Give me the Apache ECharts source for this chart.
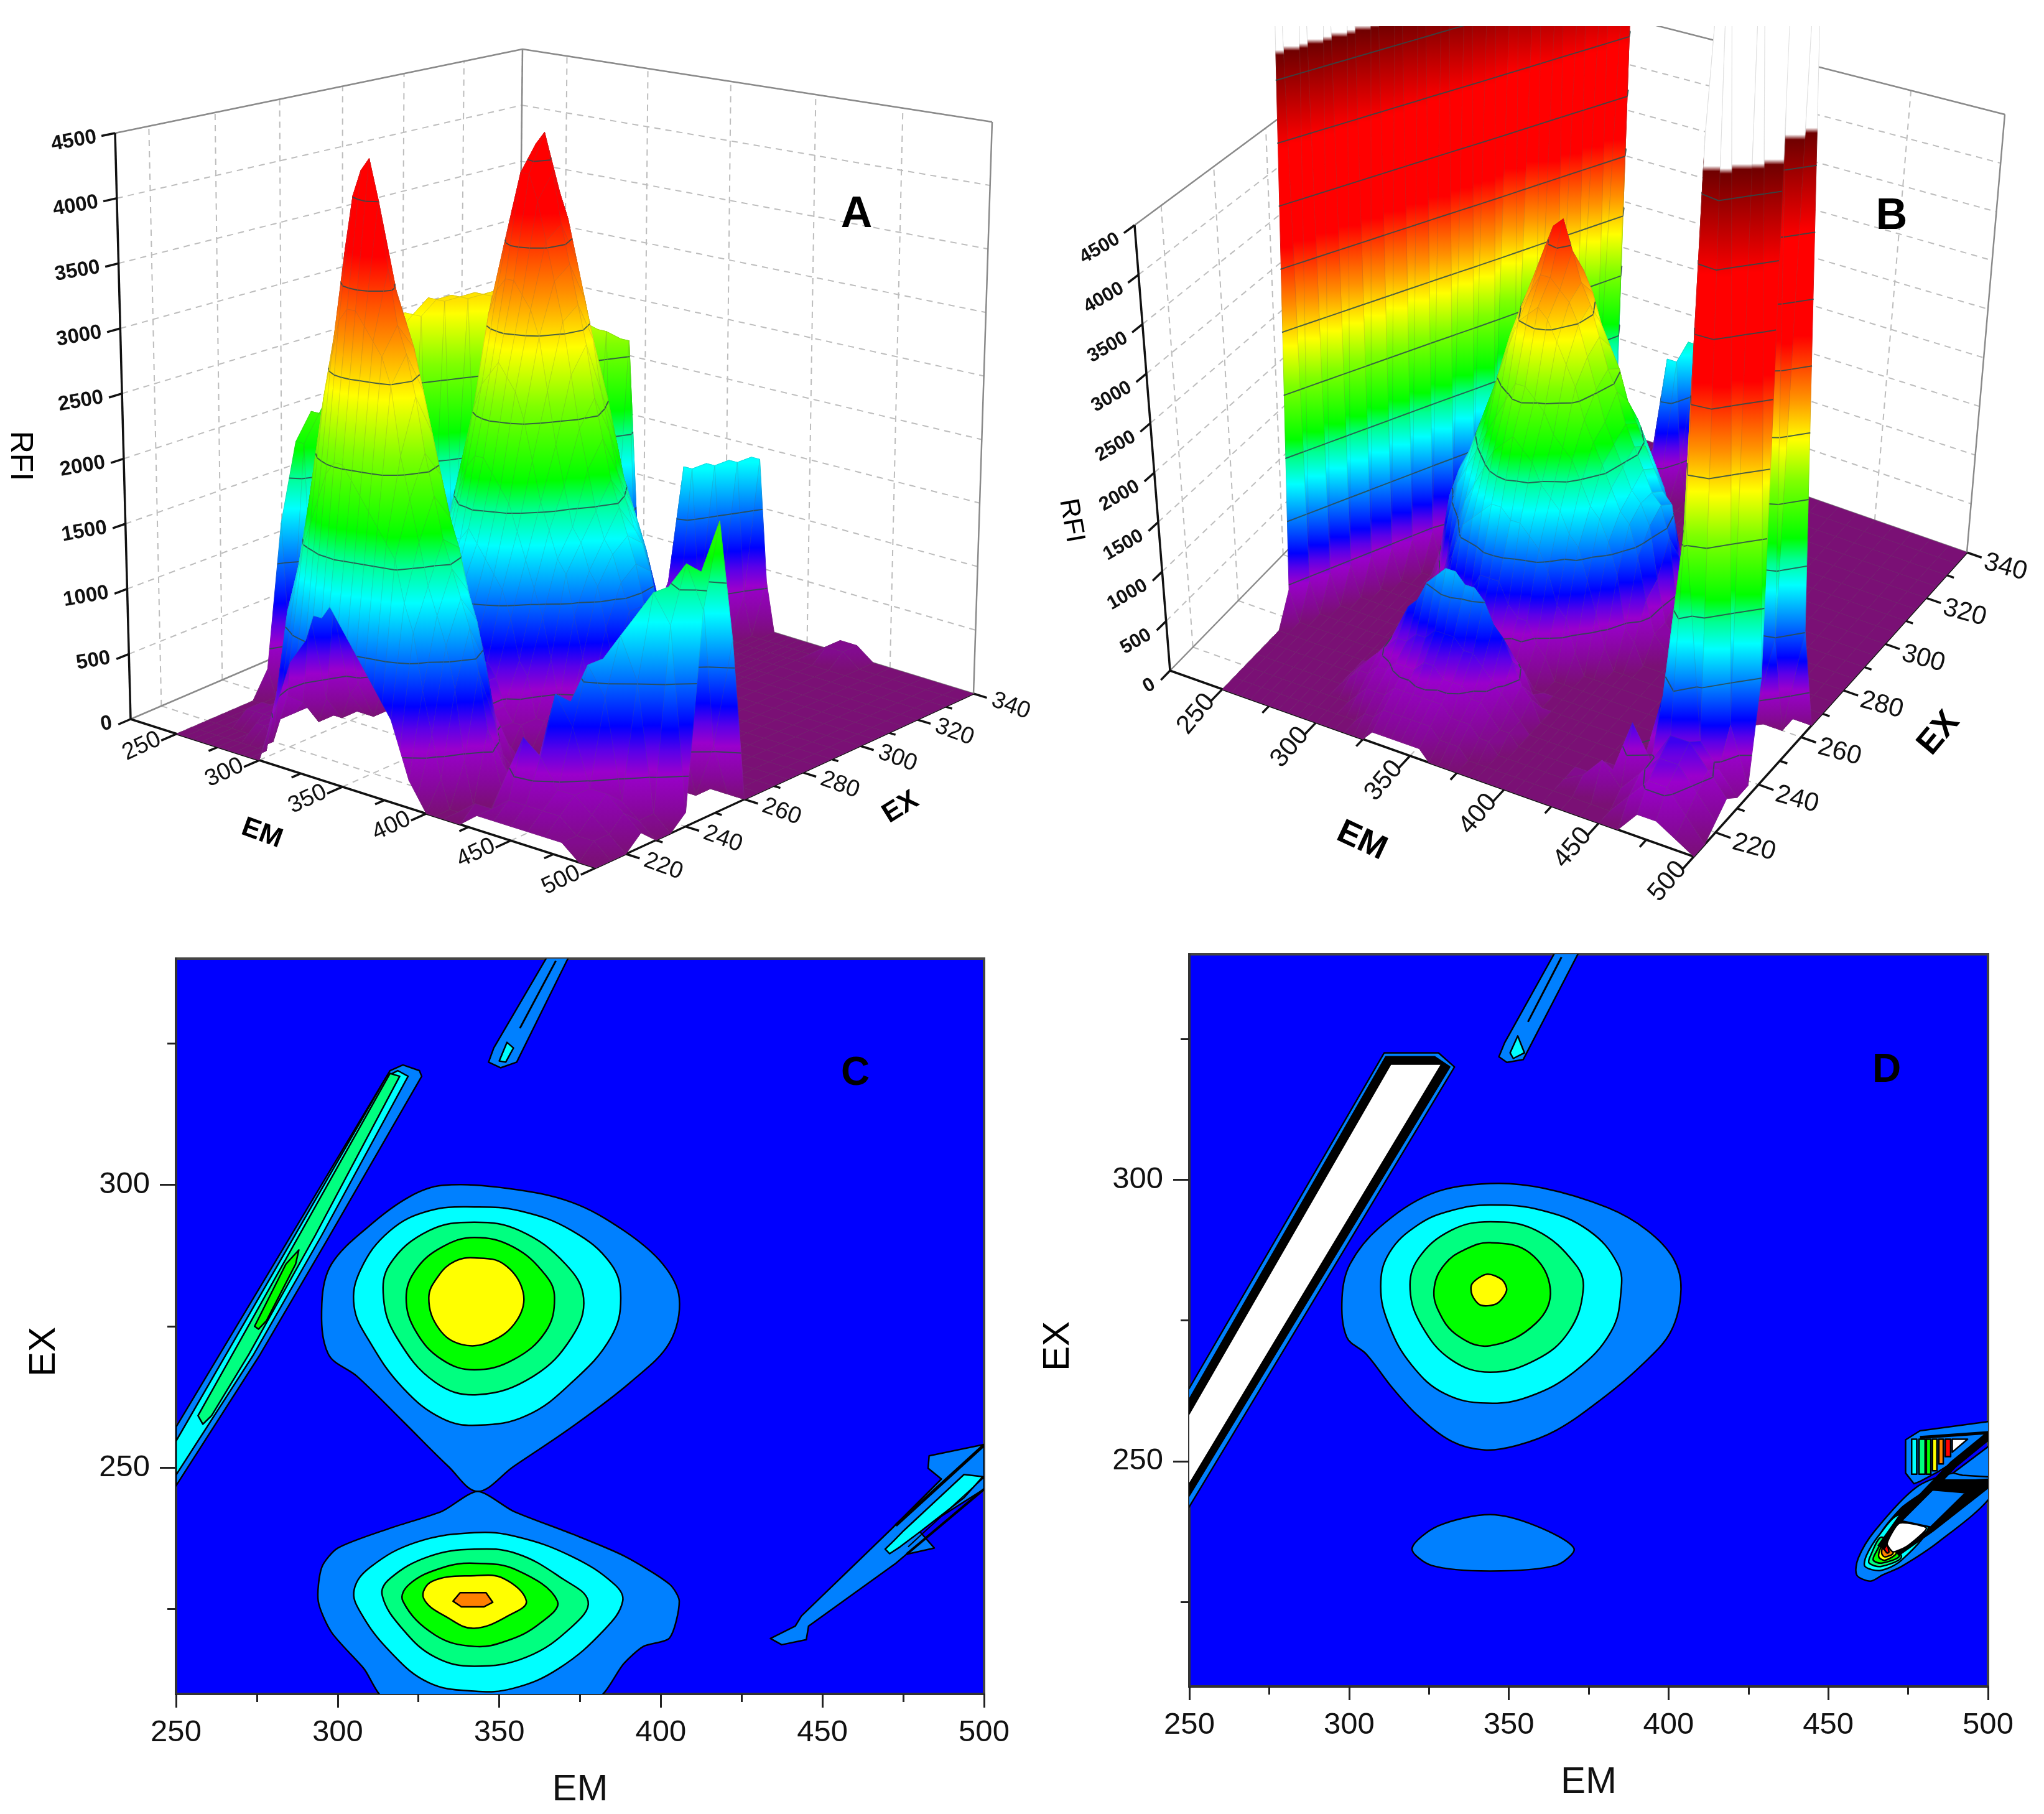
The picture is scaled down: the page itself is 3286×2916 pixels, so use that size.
<!DOCTYPE html>
<html>
<head>
<meta charset="utf-8">
<style>html,body{margin:0;padding:0;background:#fff}#chart{width:3286px;height:2916px}</style>
<script src="https://cdn.jsdelivr.net/npm/echarts@6/dist/echarts.min.js"></script>
</head>
<body>
<div id="chart"></div>
<script>
// surface grid of the two 3D panels
const emGrid = [250,255,260,265,270,275,280,285,290,295,300,305,310,315,320,325,330,335,340,345,350,355,360,365,370,375,380,385,390,395,400,405,410,420,430,440,450,460,470,480,490,500];
const exGrid = [210,215,220,225,230,235,240,245,250,255,260,265,270,275,280,285,290,295,300,305,310,315,320,325,330,335,340];
const emTicks = [250,300,350,400,450,500];
const emMinorTicks = [275,325,375,425,475];
const exTicks = [220,240,260,280,300,320,340];
const exMinorTicks = [230,250,270,290,310,330];
const rfiTicks = [0,500,1000,1500,2000,2500,3000,3500,4000,4500];
const isoLevels = [350,990,1630,2270,2910,3550,4190,4830,5470];
const RFI_UNIT = 100; // table values below are RFI / 100

// panel A, one row per exGrid value
const rfiA = [
[0,0,0,0,0,0,0,0, 0,0,0,2,4,6,8,9,10,12,12,13,12,11,10,9,8,7,6,4,2,1,0,0,0, 0,1,1,1,1,1,1,0,0],
[0,0,0,0,0,0,0,0, 0,0,3,6,11,13,16,18,20,22,23,23,22,21,20,19,18,17,14,12,8,5,2,0,0, 1,1,2,2,2,2,1,1,0],
[0,0,0,0,0,0,1,1, 0,5,9,12,15,19,23,27,30,33,34,34,33,32,31,29,24,21,18,15,13,11,8,3,0, 0,3,6,5,3,3,2,1,0],
[0,0,0,1,1,1,1,1, 3,11,14,17,21,24,29,33,38,42,44,45,42,37,33,31,28,24,21,18,16,14,12,9,5, 0,0,4,9,7,3,3,2,1],
[0,0,0,1,1,1,1,1, 2,9,11,14,17,21,25,30,32,34,37,37,35,33,31,28,25,22,19,17,14,12,9,5,2, 0,0,0,8,11,9,2,1,0],
[0,0,0,0,1,1,1,1, 0,2,9,11,13,15,17,18,20,22,24,24,23,21,19,18,17,16,13,11,8,5,2,0,0, 0,0,0,0,11,13,10,1,0],
[2,0,0,0,0,1,1,1, 0,0,2,3,5,6,8,9,11,13,15,15,14,13,11,9,8,6,5,3,2,2,0,0,0, 0,0,0,0,0,14,16,14,1],
[13,2,0,0,0,0,0,0, 0,0,0,0,2,3,5,6,8,9,10,10,10,8,8,6,5,3,2,0,0,0,0,0,0, 0,0,0,0,0,1,16,18,15],
[19,19,2,0,0,0,0,0, 0,0,0,0,2,3,5,6,8,9,11,11,11,9,8,6,5,3,2,2,0,0,0,0,0, 0,0,0,0,0,0,5,17,21],
[21,21,21,2,0,0,0,0, 0,0,0,2,3,5,8,11,12,14,14,15,14,13,12,11,9,6,5,2,2,0,0,0,0, 0,0,0,0,0,0,0,4,12],
[2,23,23,23,2,0,0,0, 0,0,2,5,8,9,12,15,17,19,20,20,19,18,17,15,13,11,9,6,3,2,0,0,0, 0,0,0,0,0,0,0,0,0],
[0,2,25,25,25,2,0,0, 0,2,5,9,12,14,17,20,23,25,26,27,26,25,23,20,17,15,13,12,9,6,3,2,0, 0,0,0,0,0,0,0,0,0],
[0,0,2,27,27,27,2,0, 2,6,11,12,13,16,20,24,30,32,33,33,32,31,29,25,21,18,15,14,12,11,8,5,2, 0,0,0,0,0,0,0,0,0],
[0,0,0,2,28,28,28,2, 3,9,12,14,16,21,25,30,35,38,41,41,39,36,33,30,26,22,19,16,14,13,11,9,3, 0,0,0,0,0,0,0,0,0],
[0,0,0,0,2,29,29,29, 8,9,13,17,21,24,28,33,37,41,43,44,41,37,34,31,28,24,21,18,16,14,12,9,5, 0,0,0,0,0,0,0,0,0],
[0,0,0,0,0,2,29,29, 29,11,11,15,19,22,25,30,33,35,39,39,37,34,31,28,24,21,18,16,14,13,11,8,3, 0,0,0,0,0,0,0,0,0],
[0,0,0,0,0,0,2,29, 29,29,11,12,14,16,18,21,23,27,29,29,29,27,25,23,20,17,15,13,11,6,3,2,0, 0,0,0,0,0,0,0,0,0],
[0,0,0,0,0,0,0,2, 29,29,29,6,6,9,12,14,15,16,17,17,17,17,16,15,14,13,11,8,5,3,2,0,0, 0,0,0,0,0,0,0,0,0],
[0,0,0,0,0,0,0,0, 3,28,28,28,4,3,6,8,9,9,11,11,11,11,11,9,9,8,6,5,3,2,2,0,0, 0,0,0,0,0,0,0,0,0],
[0,0,0,0,0,0,0,0, 0,3,27,27,27,3,0,2,2,2,2,3,3,3,2,2,2,2,0,0,0,0,0,0,0, 0,0,0,0,0,0,0,0,0],
[0,0,0,0,0,0,0,0, 0,0,3,26,26,26,3,0,0,0,0,0,0,0,0,0,0,0,0,0,0,0,0,0,0, 0,0,0,0,0,0,0,0,0],
[0,0,0,0,0,0,0,0, 0,0,0,3,25,25,25,3,0,0,0,0,0,0,0,0,0,0,0,0,0,0,0,0,0, 0,0,0,0,0,0,0,0,0],
[0,0,0,0,0,0,0,0, 0,0,0,0,3,24,24,24,3,0,0,3,5,0,0,0,0,0,0,0,0,0,0,0,0, 0,0,0,0,0,0,0,0,0],
[0,0,0,0,0,0,0,0, 0,0,0,0,0,0,0,0,0,0,0,4,14,14,3,0,0,0,0,0,0,0,0,0,0, 0,0,0,0,0,0,0,0,0],
[0,0,0,0,0,0,0,0, 0,0,0,0,0,0,0,0,0,0,0,0,3,14,14,3,0,0,0,0,0,0,0,0,0, 0,0,0,0,0,0,0,0,0],
[0,0,0,0,0,0,0,0, 0,0,0,0,0,0,0,0,0,0,0,0,0,3,14,14,3,0,0,0,0,0,0,0,0, 1,1,0,0,0,0,0,0,0],
[0,0,0,0,0,0,0,0, 0,0,0,0,0,0,0,0,0,0,0,0,0,0,0,14,14,4,0,0,0,0,0,0,0, 1,1,0,0,0,0,0,0,0]
];

// panel B, same layout; the 90s are the scatter walls that run off the top of the picture
const rfiB = [
[0,0,0,0,0,0,0,0, 0,0,0,0,0,0,0,0,1,1,1,1,1,1,0,0,0,0,0,0,0,0,0,0,0, 0,0,0,0,0,2,2,1,0],
[0,0,0,0,0,0,0,0, 0,0,0,0,0,0,1,1,2,2,2,2,2,2,1,1,1,0,0,0,0,0,0,0,0, 0,0,0,0,2,4,4,2,0],
[0,0,0,0,0,0,0,0, 0,0,0,0,1,2,2,2,3,3,3,3,3,3,2,2,2,1,1,0,0,0,0,0,0, 0,1,3,1,3,5,5,3,1],
[0,0,0,0,0,0,0,0, 0,0,1,2,2,3,3,4,4,4,5,5,4,4,4,3,3,2,1,1,0,0,0,0,0, 0,0,1,6,3,6,6,4,2],
[0,0,0,0,0,0,0,0, 0,0,1,2,3,4,5,5,6,6,7,7,7,6,6,5,4,3,2,1,0,0,0,0,0, 0,0,0,1,8,25,5,3,1],
[0,0,0,0,0,0,0,0, 0,0,0,0,3,5,7,8,10,11,12,12,11,11,10,8,7,5,3,2,0,0,0,0,0, 0,0,0,0,4,60,90,6,1],
[3,0,0,0,0,0,0,0, 0,0,0,0,0,1,4,5,6,7,9,9,8,8,6,5,4,3,1,0,0,0,0,0,0, 0,0,0,0,0,30,90,90,10],
[90,3,0,0,0,0,0,0, 0,0,0,0,0,0,0,2,2,3,3,4,3,3,2,2,1,0,0,0,0,0,0,0,0, 0,0,0,0,0,5,90,90,90],
[90,90,3,0,0,0,0,0, 0,0,0,0,0,0,3,5,5,6,8,8,8,6,5,5,3,2,0,0,0,0,0,0,0, 0,0,0,0,0,1,40,90,90],
[90,90,90,3,0,0,0,0, 0,0,0,0,2,5,8,11,12,13,14,14,13,13,12,11,9,6,5,2,0,0,0,0,0, 0,0,0,0,0,0,1,10,90],
[3,90,90,90,3,0,0,0, 0,0,0,2,5,9,12,14,16,18,19,20,19,18,16,15,14,12,11,8,5,2,0,0,0, 0,0,0,0,0,0,0,0,10],
[0,3,90,90,90,3,0,0, 0,0,3,8,12,14,16,18,20,22,24,24,23,22,20,19,18,16,14,13,11,8,3,2,0, 0,0,0,0,0,0,0,0,0],
[0,0,3,90,90,90,3,0, 0,3,9,12,14,17,19,23,26,29,30,31,30,28,26,24,21,19,17,15,13,12,9,5,2, 0,0,0,0,0,0,0,0,0],
[0,0,0,3,90,90,90,3, 0,6,11,13,16,19,22,26,29,31,33,33,32,31,29,26,23,20,18,16,14,13,11,6,2, 0,0,0,0,0,0,0,0,0],
[0,0,0,0,3,90,90,90, 5,6,11,14,17,20,24,28,31,34,37,38,35,32,30,27,24,22,19,17,15,13,12,9,3, 0,0,0,0,0,0,0,0,0],
[0,0,0,0,0,3,90,90, 90,8,11,13,16,19,22,25,29,31,32,33,32,30,27,25,23,20,18,16,14,12,11,6,2, 0,0,0,0,0,0,0,0,0],
[0,0,0,0,0,0,3,90, 90,90,8,11,13,15,17,19,21,23,24,24,23,22,21,19,18,17,15,13,11,8,5,2,0, 0,0,0,0,0,0,0,0,0],
[0,0,0,0,0,0,0,3, 90,90,90,6,6,9,12,14,15,16,16,17,17,16,15,14,13,12,9,6,5,2,2,0,0, 0,0,0,0,0,0,0,0,0],
[0,0,0,0,0,0,0,0, 3,90,90,90,4,3,5,6,8,9,9,11,11,11,9,9,8,6,5,3,2,2,0,0,0, 0,0,0,0,0,0,0,0,0],
[0,0,0,0,0,0,0,0, 0,3,90,90,90,3,0,1,1,1,1,2,2,1,1,1,1,0,0,0,0,0,0,0,0, 0,0,0,0,0,0,0,0,0],
[0,0,0,0,0,0,0,0, 0,0,3,90,90,90,3,0,0,0,0,0,0,0,0,0,0,0,0,0,0,0,0,0,0, 0,0,0,0,0,0,0,0,0],
[0,0,0,0,0,0,0,0, 0,0,0,3,90,90,90,3,0,0,0,0,0,0,0,0,0,0,0,0,0,0,0,0,0, 0,0,0,0,0,0,0,0,0],
[0,0,0,0,0,0,0,0, 0,0,0,0,3,90,90,90,3,0,0,3,4,0,0,0,0,0,0,0,0,0,0,0,0, 0,0,0,0,0,0,0,0,0],
[0,0,0,0,0,0,0,0, 0,0,0,0,0,0,0,0,0,0,0,4,14,14,3,0,0,0,0,0,0,0,0,0,0, 0,0,0,0,0,0,0,0,0],
[0,0,0,0,0,0,0,0, 0,0,0,0,0,0,0,0,0,0,0,0,3,15,15,3,0,0,0,0,0,0,0,0,0, 0,0,0,0,0,0,0,0,0],
[0,0,0,0,0,0,0,0, 0,0,0,0,0,0,0,0,0,0,0,0,0,3,15,15,3,0,0,0,0,0,0,0,0, 0,0,0,0,0,0,0,0,0],
[0,0,0,0,0,0,0,0, 0,0,0,0,0,0,0,0,0,0,0,0,0,0,0,14,15,5,0,0,0,0,0,0,0, 0,0,0,0,0,0,0,0,0]
];

// ---- contour outlines of panel C, as [EM, EX] ----
const cUpper1 = [[332.3,299.9],[352.4,299.4],[372.5,296.9],[388.6,291.9],[400.6,286],[405.7,280],[402.7,272.1],[390.6,265.1],[372.5,257.2],[354.4,250.2],[343.3,245.8],[334.3,250.2],[320.2,258.2],[306.1,266.1],[297.1,270.1],[295.1,279],[298.1,286],[310.1,292.9],[322.2,297.9]];
const cUpper2 = [[342.3,296.1],[356.4,295.4],[372.5,291.9],[384.6,286],[387.6,280],[384.6,273.1],[372.5,265.1],[358.4,259.2],[343.3,257.5],[332.3,258.7],[320.2,264.1],[310.1,272.1],[305.1,278.5],[307.1,285],[316.2,291.9],[328.2,295.4]];
const cUpper3 = [[342.3,293.4],[356.4,291.9],[370.5,286],[376.1,280],[372.5,273.1],[360.4,266.1],[343.3,262.9],[330.2,265.1],[318.2,273.1],[314.2,280],[316.2,286],[328.2,291.9]];
const cUpper4 = [[342.3,290.7],[354.4,289],[364.4,284],[367.1,280],[364.4,274.1],[354.4,269.1],[342.3,267.3],[332.3,269.1],[324.2,274.1],[321.2,280],[324.2,285],[332.3,289]];
const cUpper5 = [[342.3,287.1],[351.4,286],[357.4,281],[355.4,276],[347.3,272.3],[338.3,271.8],[331.3,274.6],[328.2,280],[331.3,284],[336.3,286.5]];
const cLower1 = [[343.3,245.8],[354.4,242.3],[372.5,238.3],[388.6,234.4],[402.7,229.4],[405.7,226.4],[402.7,219.9],[394.6,218.4],[388.6,215.4],[379.5,209],[315.2,209],[308.1,214.5],[298.1,220.9],[294,226.4],[295.1,232.4],[300.1,235.8],[316.2,239.3],[332.3,242.3]];
const cLower2 = [[342.3,238.5],[355.4,237.8],[372.5,234.3],[385.6,229.4],[388.2,226.4],[382.6,221.4],[368.4,214.5],[354.4,211],[342.3,210.5],[328.2,212],[316.2,217.5],[307.1,224.4],[305.1,228.4],[310.1,232.4],[324.2,236.8]];
const cLower3 = [[342.3,235.6],[355.4,234.8],[369.5,230.4],[377.5,226.4],[372.5,221.9],[358.4,216.5],[342.3,214.9],[330.2,216.5],[320.2,221.4],[313.8,227.4],[316.2,230.4],[328.2,234.3]];
const cLower4 = [[342.3,233.1],[355.4,231.9],[368,226.4],[362.4,222.4],[352.4,219.4],[342.3,218.4],[330.2,220.4],[320.2,226.4],[322.2,229.4],[332.3,232.3]];
const cLower5 = [[342.3,230.9],[351.4,230.4],[358.4,226.4],[353.4,224],[342.3,221.6],[334.3,223.4],[326.6,226.9],[329.2,229.9]];
const cLower6 = [[337.9,227.9],[345.9,227.9],[348,226.2],[345.3,225.4],[338.3,225.4],[335.7,226.4]];
const cRidge1 = [[250,257.2],[316.2,320.2],[320.2,321.2],[325.3,320.2],[326,319.2],[296.5,290],[276,270],[250,246.8]];
const cRidge2 = [[250,254.7],[315.2,319.2],[318.6,320.2],[321.8,319.2],[295,291],[274,270],[250,248.7]];
const cRidge3 = [[256.8,259.2],[316.2,319.7],[319.2,319.2],[293,291],[272.5,270],[261,259.2],[258.3,257.7]];
const cRidge4 = [[274.3,275],[284,286],[288,288.5],[287,286],[278,276],[275.5,274.5]];
const cTop1 = [[365.5,341],[372.1,341],[355.4,321.7],[350.4,320.7],[346.7,321.7],[348.3,324.2]];
const cTop2 = [[352.4,325.2],[354.4,324.2],[352,321.7],[350,321.9]];
const cTopLine = [[367.5,339.6],[356.4,327.7]];
const cTail1 = [[433.9,219.8],[441.6,222],[443.5,223.8],[471.4,239.2],[486.8,248],[482.7,249.9],[483,252.1],[500,254.1],[500,246.2],[479.8,238.9],[484.6,235.8],[476,234.7],[472.7,233.1],[445.7,222],[445,219.6],[437.4,218.7]];
const cTail2 = [[469.4,235.6],[472.1,237.1],[475.2,238.9],[493.8,248.8],[499.6,248.4],[493.8,244.7],[479.8,238.5],[474,236],[470.8,234.8]];
const cTailLine1 = [[472.7,239.8],[500,254]];
const cTailLine2 = [[476,234.7],[500,246.2]];
const cTailLine3 = [[476.5,236],[500,248.3]];

// ---- contour outlines of panel D ----
const dUpper1 = [[344.2,299.3],[360.6,298.5],[381,295],[393.3,291],[401.5,286],[403.9,280.5],[400.7,273],[391.5,267],[379,261],[364.9,255.5],[352.6,252.8],[342.4,252],[332.2,253.5],[321.7,258],[313.6,263],[305.4,269],[299.3,272],[297.8,279],[300.3,285],[309.5,291.5],[325.8,297.5]];
const dUpper2 = [[344.2,295.5],[360.6,294.5],[374.9,291],[384.1,285],[385.1,280],[382,273],[370.8,266],[356.5,261.5],[343.2,260.3],[329.9,262],[319.7,267],[312.6,274],[309.9,281],[312.6,287],[321.7,292],[332,294.5]];
const dUpper3 = [[344.2,292.5],[358.5,291],[370.8,285],[373.3,280.5],[368.8,273],[358.5,268],[344.2,265.8],[332,268],[322.8,274],[319.1,280.5],[321.7,286],[332,291]];
const dUpper4 = [[344.2,288.8],[356.5,287],[363,280.5],[358.5,274.5],[344.2,270.5],[334,272.3],[327.9,276.8],[326.7,281],[330,285],[336,287.5]];
const dUpper5 = [[343.2,283.2],[347.9,282.2],[349.3,280.3],[346.3,278],[341.2,277.7],[338.5,279.5],[338.5,281.5]];
const dLower1 = [[344.2,240.5],[358.5,238.5],[370.4,234.5],[364.7,231.5],[344.2,230.5],[325.8,231.5],[319.7,234.5],[327.9,238.5]];
const dBand1 = [[249,262],[311,322.5],[328,322.5],[333,320],[249,241]];
const dBand2 = [[249,260],[311.5,321.8],[326.8,321.8],[331.5,320],[249,243]];
const dBand3 = [[249,257.5],[313,320.5],[329,320.5],[249,245]];
const dTop1 = [[365.1,341],[372.5,341],[354.5,321.3],[349.4,320.8],[346.9,321.8],[348.7,324.3]];
const dTop2 = [[352.8,325.5],[354.9,322.5],[351.4,321.5],[350.4,322.5]];
const dTopLine = [[366.5,339.5],[356,328]];
const dTipOuter = [[458.9,229.8],[463.2,228.7],[467,229.8],[472.9,231.3],[484.6,235.7],[501,243.8],[501,248.3],[489.1,247.9],[477.4,245.3],[464.5,237.6],[459.4,232.8]];
const dTipDark = [[461.9,231.7],[462.5,233.5],[467.7,238.3],[473.5,242],[483.9,245.7],[501,246.8],[501,245.9],[481.3,237.9],[472.3,233.2],[466.4,230.9]];
const dTip2 = [[461.5,231.3],[461.9,233.2],[465.8,236.8],[472.3,240.5],[481.3,238.3],[472.9,232.4],[466.4,230.6]];
const dTip3 = [[462.8,231.9],[463.2,233.2],[466.7,236.5],[472.9,233],[466.4,231.3]];
const dTip4 = [[464.1,232.4],[464.8,233.7],[467.4,235.7],[472.3,233.2],[466.7,231.9]];
const dTip5 = [[465.8,233],[466.4,234.6],[468,235.4],[471.3,233.7],[467.7,232.4]];
const dTip6 = [[466.7,233.7],[467.4,235.2],[468.4,235.4],[470.3,233.7],[467.7,233]];
const dTip7 = [[467.4,234.6],[468,235.7],[469,233.9],[468.4,233.7]];
const dWhite = [[468.4,235.4],[472.3,239],[480.7,238.1],[474.9,235],[470.3,233.9]];
const dQuad = [[472.9,239.4],[482.6,244.9],[493,244.4],[482,238.3]];
const dQuad2 = [[489.1,247.9],[501,253],[501,247.2],[492,247.5]];
const dWedge = [[474.2,253.8],[478.7,255.4],[501,257.1],[501,254],[484,248],[478.7,246.4],[476.8,246],[474.2,247.9]];
const dStripes = [
  [[476.1,253.9],[477.7,253.9],[477.7,247.7],[476.1,247.7]],
  [[478.4,253.9],[480.3,253.9],[480.3,247.7],[478.4,247.7]],
  [[480.7,253.9],[482.1,253.9],[482.1,247.7],[480.7,247.7]],
  [[482.6,253.9],[484,253.9],[484,248.3],[482.6,248.3]],
  [[484.6,253.9],[486,253.9],[486,249.5],[484.6,249.5]],
  [[486.6,253.9],[488.3,253.9],[488.3,250.8],[486.6,250.8]],
  [[488.8,253.9],[493.6,253.9],[488.8,251.6]]
];
const dStripeLevels = [1,2,3,4,5,6,7];
const dLineA = [[466.4,234.6],[472.9,239.8],[489.1,249.4],[501,254.9]];
const dLineB = [[471.6,233.5],[482.6,237.9],[501,246.1]];
const dLineC = [[484,246.4],[501,246.4]];
const dLineD = [[478.7,254.2],[501,255.1]];

const exAxisMajor = [250,300];
const exAxisMinor = [225,275,325];

// ---- look ----
const FONT = '"Liberation Sans", Arial, sans-serif';
const levelFill = ['#0080ff','#00ffff','#00ff80','#00ff00','#ffff00','#ff8000','#ff0000','#ffffff','#000000','#000088'];
const rfiColors = [[0,'#7a1075'],[150,'#86089a'],[400,'#9a00cc'],[550,'#5a00e8'],[700,'#0000ff'],[1050,'#0080ff'],[1400,'#00ffff'],[1650,'#00ff90'],[1850,'#00ff00'],[2400,'#80ff00'],[2800,'#ffff00'],[3200,'#ff9000'],[3800,'#ff0000'],[4800,'#ff0000'],[5750,'#700000'],[5800,'#ffffff'],[20000,'#ffffff']];

const contoursC = [
  {pts:cUpper1,l:0,s:.35},{pts:cUpper2,l:1,s:.4},{pts:cUpper3,l:2,s:.4},{pts:cUpper4,l:3,s:.4},{pts:cUpper5,l:4,s:.4},
  {pts:cLower1,l:0,s:.25},{pts:cLower2,l:1,s:.4},{pts:cLower3,l:2,s:.4},{pts:cLower4,l:3,s:.4},{pts:cLower5,l:4,s:.4},{pts:cLower6,l:5,s:0},
  {pts:cRidge1,l:0},{pts:cRidge2,l:1},{pts:cRidge3,l:2},{pts:cRidge4,l:3},
  {pts:cTop1,l:0},{pts:cTop2,l:1},{pts:cTopLine,w:3},
  {pts:cTail1,l:0},{pts:cTail2,l:1},{pts:cTailLine1,w:5},{pts:cTailLine2,w:4},{pts:cTailLine3,w:2}
];
const contoursD = [
  {pts:dUpper1,l:0,s:.35},{pts:dUpper2,l:1,s:.4},{pts:dUpper3,l:2,s:.4},{pts:dUpper4,l:3,s:.4},{pts:dUpper5,l:4,s:.3},
  {pts:dLower1,l:0,s:.3},
  {pts:dBand1,l:0},{pts:dBand2,l:8},{pts:dBand3,l:7},
  {pts:dTop1,l:0},{pts:dTop2,l:1},{pts:dTopLine,w:3},
  {pts:dWedge,l:0},
  ...dStripes.map((p, i) => ({pts:p, l:dStripeLevels[i]})),
  {pts:dTipOuter,l:0,s:.3},{pts:dTipDark,l:8,s:.2},
  {pts:dTip2,l:1,s:.3},{pts:dTip3,l:2,s:.3},{pts:dTip4,l:3,s:.3},{pts:dTip5,l:4,s:.3},{pts:dTip6,l:5,s:.3},{pts:dTip7,l:6,s:.3},
  {pts:dLineA,w:13},{pts:dLineB,w:8},{pts:dLineC,w:7},{pts:dLineD,w:5},
  {pts:dWhite,l:7,s:.2},{pts:dQuad,l:0},{pts:dQuad2,l:0}
];

// box corners of the 3D panels on the page: floor and top plane, in the order
// (EMmin,EXmin) (EMmax,EXmin) (EMmax,EXmax) (EMmin,EXmax)
const EM_MIN = 222, EM_MAX = 500, EX_MIN = 210, EX_MAX = 340, RFI_TOP = 4500;
const boxA = {
  floor: [[210,1156],[958,1395],[1565,1115],[831,890]],
  top: [[185,214],[958,352],[1595,196],[840,79]],
  em: {dx:-56, dy:20, rot:25, size:38}, ex: {dx:60, dy:20, rot:-20, size:38}, rfi: {dx:-30, dy:6, rot:10, size:33}
};
const boxB = {
  floor: [[1881,1078],[2723,1377],[3162,888],[2344,603]],
  top: [[1824,362],[2733,576],[3223,184],[2361,-36]],
  em: {dx:-42, dy:40, rot:50, size:42}, ex: {dx:62, dy:24, rot:-15, size:42}, rfi: {dx:-26, dy:20, rot:30, size:31}
};

function homography(q) {
  const [[x0,y0],[x1,y1],[x2,y2],[x3,y3]] = q;
  const sx = x0-x1+x2-x3, sy = y0-y1+y2-y3;
  const dx1 = x1-x2, dx2 = x3-x2, dy1 = y1-y2, dy2 = y3-y2;
  const den = dx1*dy2 - dx2*dy1;
  const g = (sx*dy2 - dx2*sy)/den, h = (dx1*sy - sx*dy1)/den;
  const a = x1-x0+g*x1, b = x3-x0+h*x3, d = y1-y0+g*y1, e = y3-y0+h*y3;
  return (u, v) => {
    const w = g*u + h*v + 1;
    return [(a*u + b*v + x0)/w, (d*u + e*v + y0)/w];
  };
}

function makeProjector(box) {
  const floor = homography(box.floor), top = homography(box.top);
  return (em, ex, rfi) => {
    const u = (em-EM_MIN)/(EM_MAX-EM_MIN), v = (ex-EX_MIN)/(EX_MAX-EX_MIN), t = rfi/RFI_TOP;
    const f = floor(u, v), c = top(u, v);
    return [f[0] + (c[0]-f[0])*t, f[1] + (c[1]-f[1])*t];
  };
}

function colorAt(z) {
  for (let i = 1; i < rfiColors.length; i++) {
    if (z <= rfiColors[i][0]) {
      const a = rfiColors[i-1], b = rfiColors[i];
      return echarts.color.lerp((z-a[0])/(b[0]-a[0]), [a[1], b[1]]);
    }
  }
  return '#ffffff';
}

function quadFill(low, high, zLow, zHigh) {
  if (zHigh - zLow < 20 || Math.abs(high[1]-low[1]) < 1) return colorAt((zLow+zHigh)/2);
  const stops = [{offset:0, color:colorAt(zLow)}];
  rfiColors.forEach(s => {
    if (s[0] > zLow && s[0] < zHigh) stops.push({offset:(s[0]-zLow)/(zHigh-zLow), color:s[1]});
  });
  stops.push({offset:1, color:colorAt(zHigh)});
  return new echarts.graphic.LinearGradient(low[0], low[1], low[0], high[1], stops, true);
}

// surface: far rows first, so nearer cells paint over them
function surfaceCells() {
  const cells = [];
  for (let j = exGrid.length-2; j >= 0; j--) {
    for (let i = 0; i < emGrid.length-1; i++) cells.push([i, j]);
  }
  return cells;
}

function renderSurface(table, project) {
  return function (params, api) {
    const i = api.value(0), j = api.value(1);
    const corners = [[i,j],[i+1,j],[i+1,j+1],[i,j+1]].map(c => {
      const z = table[c[1]][c[0]]*RFI_UNIT;
      const em = emGrid[c[0]], ex = exGrid[c[1]];
      return {em, ex, z, p: api.coord(project(em, ex, z))};
    });
    let lo = corners[0], hi = corners[0];
    corners.forEach(c => { if (c.z < lo.z) lo = c; if (c.z > hi.z) hi = c; });
    const pts = corners.map(c => c.p);
    const fill = quadFill(lo.p, hi.p, lo.z, hi.z);
    const kids = [
      {type:'polygon', shape:{points:pts}, style:{fill:fill, stroke:fill, lineWidth:1}},
      {type:'polygon', shape:{points:pts}, style:{fill:'none', stroke:'rgba(95,95,95,0.2)', lineWidth:1}}
    ];
    isoLevels.forEach(level => {
      if (level <= lo.z || level >= hi.z) return;
      const cross = [];
      for (let k = 0; k < 4; k++) {
        const a = corners[k], b = corners[(k+1)%4];
        if ((a.z < level) !== (b.z < level)) {
          const t = (level-a.z)/(b.z-a.z);
          cross.push(api.coord(project(a.em+(b.em-a.em)*t, a.ex+(b.ex-a.ex)*t, level)));
        }
      }
      for (let k = 0; k+1 < cross.length; k += 2) {
        kids.push({type:'line', shape:{x1:cross[k][0], y1:cross[k][1], x2:cross[k+1][0], y2:cross[k+1][1]},
          style:{stroke:'rgba(45,75,75,0.85)', lineWidth:2}});
      }
    });
    return {type:'group', children:kids};
  };
}

// box walls, axes, ticks and tick labels
function boxItems(box) {
  const items = [];
  const seg = (a, b, kind) => items.push({a, b, kind});
  const label = (at, text, opt, align) => items.push({at, text, opt, align});
  exTicks.forEach(ex => {
    seg([EM_MIN,ex,0],[EM_MIN,ex,RFI_TOP],'dash');
    seg([EM_MIN,ex,0],[EM_MAX,ex,0],'dash');
    seg([EM_MAX,ex,0],[EM_MAX+8,ex,0],'axis');
    label([EM_MAX,ex,0], String(ex), box.ex, 'center');
  });
  exMinorTicks.forEach(ex => seg([EM_MAX,ex,0],[EM_MAX+4,ex,0],'axis'));
  emTicks.forEach(em => {
    if (em < EM_MAX) seg([em,EX_MAX,0],[em,EX_MAX,RFI_TOP],'dash');
    seg([em,EX_MIN,0],[em,EX_MAX,0],'dash');
    seg([em,EX_MIN,0],[em,EX_MIN-5,0],'axis');
    label([em,EX_MIN,0], String(em), box.em, 'center');
  });
  emMinorTicks.forEach(em => seg([em,EX_MIN,0],[em,EX_MIN-3,0],'axis'));
  rfiTicks.forEach(r => {
    if (r > 0) {
      seg([EM_MIN,EX_MIN,r],[EM_MIN,EX_MAX,r],'dash');
      seg([EM_MIN,EX_MAX,r],[EM_MAX,EX_MAX,r],'dash');
    }
    seg([EM_MIN,EX_MIN,r],[EM_MIN,EX_MIN-4,r],'axis');
    label([EM_MIN,EX_MIN,r], String(r), box.rfi, 'right');
  });
  seg([EM_MIN,EX_MIN,RFI_TOP],[EM_MIN,EX_MAX,RFI_TOP],'frame');
  seg([EM_MIN,EX_MAX,RFI_TOP],[EM_MAX,EX_MAX,RFI_TOP],'frame');
  seg([EM_MIN,EX_MAX,0],[EM_MIN,EX_MAX,RFI_TOP],'frame');
  seg([EM_MAX,EX_MAX,0],[EM_MAX,EX_MAX,RFI_TOP],'frame');
  seg([EM_MIN,EX_MIN,0],[EM_MIN,EX_MAX,0],'frame');
  seg([EM_MIN,EX_MAX,0],[EM_MAX,EX_MAX,0],'frame');
  seg([EM_MIN,EX_MIN,0],[EM_MIN,EX_MIN,RFI_TOP],'axis');
  seg([EM_MIN,EX_MIN,0],[EM_MAX,EX_MIN,0],'axis');
  seg([EM_MAX,EX_MIN,0],[EM_MAX,EX_MAX,0],'axis');
  return items;
}

const lineStyles = {
  dash: {stroke:'#bdbdbd', lineWidth:2, lineDash:[10,8]},
  frame: {stroke:'#8a8a8a', lineWidth:2.5},
  axis: {stroke:'#111', lineWidth:3.5}
};

function renderBox(items, project) {
  return function (params, api) {
    const it = items[params.dataIndex];
    if (it.kind) {
      const a = api.coord(project(...it.a)), b = api.coord(project(...it.b));
      return {type:'line', shape:{x1:a[0], y1:a[1], x2:b[0], y2:b[1]}, style:lineStyles[it.kind]};
    }
    const p = api.coord(project(...it.at));
    return {type:'text', x:p[0]+it.opt.dx, y:p[1]+it.opt.dy, rotation:it.opt.rot*Math.PI/180,
      style:{text:it.text, fontSize:it.opt.size, fontFamily:FONT, fill:'#111', align:it.align, verticalAlign:'middle', fontWeight:it.align==='right'?'bold':'normal'}};
  };
}

function renderContour(list) {
  return function (params, api) {
    const c = list[params.dataIndex];
    const pts = c.pts.map(p => api.coord(p));
    if (c.w) return {type:'polyline', shape:{points:pts}, style:{fill:'none', stroke:'#000', lineWidth:c.w}};
    return {type:'polygon', shape:{points:pts, smooth:c.s || 0},
      style:{fill:levelFill[c.l], stroke:'#000', lineWidth:2.5, lineJoin:'round'}};
  };
}

function contourAxes(gridIndex) {
  const tickStyle = {color:'#222', width:3};
  return {
    x: {type:'value', gridIndex, min:250, max:500, interval:50, position:'bottom',
      axisLine:{show:true, onZero:false, lineStyle:{color:'#333', width:4}},
      axisTick:{show:true, length:22, lineStyle:tickStyle},
      minorTick:{show:true, splitNumber:2, length:13, lineStyle:tickStyle},
      axisLabel:{fontSize:49, fontFamily:FONT, color:'#111', margin:38, showMinLabel:true, showMaxLabel:true},
      splitLine:{show:false}, name:'EM', nameLocation:'middle', nameGap:124,
      nameTextStyle:{fontSize:60, fontFamily:FONT, color:'#111'}},
    y: {type:'value', gridIndex, min:210, max:340, position:'left',
      axisLine:{show:true, onZero:false, lineStyle:{color:'#333', width:4}},
      axisTick:{show:true, length:26, lineStyle:tickStyle, customValues:exAxisMajor},
      axisLabel:{fontSize:49, fontFamily:FONT, color:'#111', margin:42, customValues:exAxisMajor},
      splitLine:{show:false}},
    yMinor: {type:'value', gridIndex, min:210, max:340, position:'left',
      axisLine:{show:false},
      axisTick:{show:true, length:14, lineStyle:tickStyle, customValues:exAxisMinor},
      axisLabel:{show:false}, splitLine:{show:false}}
  };
}

const projectA = makeProjector(boxA);
const projectB = makeProjector(boxB);
const itemsA = boxItems(boxA);
const itemsB = boxItems(boxB);
const axesC = contourAxes(2);
const axesD = contourAxes(3);

function hiddenAxis(gridIndex, min, max, inverse) {
  return {type:'value', show:false, gridIndex, min, max, inverse, splitLine:{show:false}, scale:true};
}

function pageText(text, x, y, size, rot, weight) {
  return {type:'text', x, y, rotation:(rot||0)*Math.PI/180, z:100,
    style:{text, fontSize:size, fontFamily:FONT, fontWeight:weight||'normal', fill:'#000', align:'center', verticalAlign:'middle'}};
}

const chart = echarts.init(document.getElementById('chart'), null, {renderer:'canvas'});
chart.setOption({
  backgroundColor:'#ffffff',
  animation:false,
  grid:[
    {left:0, top:0, width:1650, height:1500},
    {left:1650, top:42, width:1636, height:1458},
    {left:283, top:1541, width:1299, height:1182, show:true, backgroundColor:'#0000ff', borderColor:'#444', borderWidth:4},
    {left:1912, top:1534, width:1284, height:1177, show:true, backgroundColor:'#0000ff', borderColor:'#444', borderWidth:4}
  ],
  xAxis:[hiddenAxis(0,0,1650,false), hiddenAxis(1,1650,3286,false), axesC.x, axesD.x],
  yAxis:[hiddenAxis(0,0,1500,true), hiddenAxis(1,42,1500,true), axesC.y, axesD.y, axesC.yMinor, axesD.yMinor],
  series:[
    {type:'custom', coordinateSystem:'cartesian2d', xAxisIndex:0, yAxisIndex:0, z:2, silent:true, animation:false,
      data:itemsA.map((_, i) => [i, i]), renderItem:renderBox(itemsA, projectA)},
    {type:'custom', coordinateSystem:'cartesian2d', xAxisIndex:0, yAxisIndex:0, z:3, silent:true, animation:false,
      data:surfaceCells(), renderItem:renderSurface(rfiA, projectA)},
    {type:'custom', coordinateSystem:'cartesian2d', xAxisIndex:1, yAxisIndex:1, z:2, silent:true, clip:true, animation:false,
      data:itemsB.map((_, i) => [i, i]), renderItem:renderBox(itemsB, projectB)},
    {type:'custom', coordinateSystem:'cartesian2d', xAxisIndex:1, yAxisIndex:1, z:3, silent:true, clip:true, animation:false,
      data:surfaceCells(), renderItem:renderSurface(rfiB, projectB)},
    {type:'custom', coordinateSystem:'cartesian2d', xAxisIndex:2, yAxisIndex:2, z:3, silent:true, clip:true, animation:false,
      data:contoursC.map(c => c.pts[0]), renderItem:renderContour(contoursC)},
    {type:'custom', coordinateSystem:'cartesian2d', xAxisIndex:3, yAxisIndex:3, z:3, silent:true, clip:true, animation:false,
      data:contoursD.map(c => c.pts[0]), renderItem:renderContour(contoursD)}
  ],
  graphic:[
    pageText('A', 1377, 346, 70, 0, 'bold'),
    pageText('B', 3041, 349, 70, 0, 'bold'),
    pageText('C', 1375, 1726, 64, 0, 'bold'),
    pageText('D', 3033, 1721, 64, 0, 'bold'),
    pageText('RFI', 32, 733, 50, -90),
    pageText('EM', 421, 1340, 44, -20, 'bold'),
    pageText('EX', 1448, 1298, 44, 32, 'bold'),
    pageText('RFI', 1722, 837, 44, -80),
    pageText('EM', 2189, 1352, 54, -25, 'bold'),
    pageText('EX', 3117, 1179, 54, 50, 'bold'),
    pageText('EX', 71, 2173, 60, 90),
    pageText('EX', 1701, 2164, 60, 90)
  ]
});
</script>
</body>
</html>
